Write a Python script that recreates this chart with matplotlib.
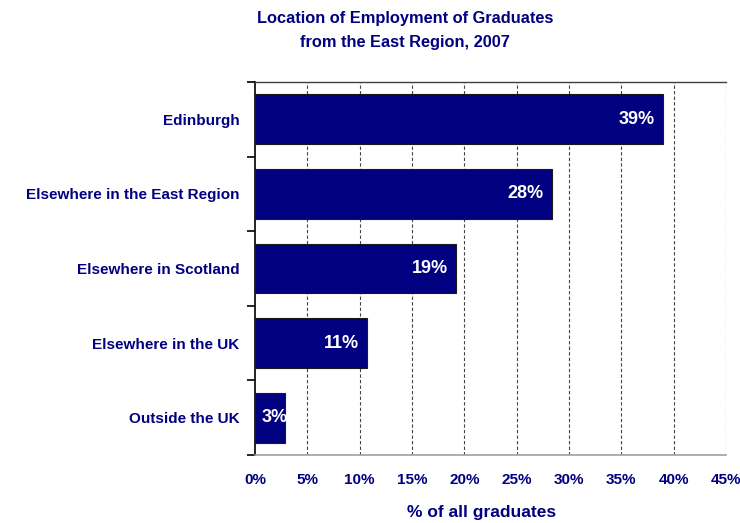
import matplotlib
matplotlib.use("Agg")
import matplotlib.pyplot as plt
from matplotlib.ticker import MultipleLocator, FuncFormatter

# Location of employment, share of all graduates (%)
categories = ["Edinburgh", "Elsewhere in the East Region", "Elsewhere in Scotland",
              "Elsewhere in the UK", "Outside the UK"]
shares = [39.0, 28.4, 19.2, 10.7, 2.9]

navy = "#000080"
plt.rcParams["font.family"] = ["Liberation Sans", "DejaVu Sans"]

fig = plt.figure(figsize=(7.4, 5.23), dpi=100)
ax = fig.add_axes([255 / 740, 1 - 455 / 523, (726 - 255) / 740, (455 - 82) / 523])

ypos = list(range(len(categories)))[::-1]
bars = ax.barh(ypos, shares, height=0.67, color=navy, edgecolor="#1a1a1a",
               linewidth=0.8, zorder=3)

# value labels at the inner end of each bar; short bars start the label near the axis
for rect, val in zip(bars, shares):
    yc = rect.get_y() + rect.get_height() / 2
    if val < 5:
        ax.annotate(f"{val:.0f}%", xy=(0, yc), xytext=(5, 0), textcoords="offset points",
                    ha="left", va="center", color="white", fontsize=13,
                    fontweight="bold", zorder=4)
    else:
        ax.annotate(f"{val:.0f}%", xy=(rect.get_width(), yc), xytext=(-6, 0),
                    textcoords="offset points", ha="right", va="center",
                    color="white", fontsize=13, fontweight="bold", zorder=4)

ax.set_xlim(0, 45)
ax.set_ylim(-0.5, len(categories) - 0.5)
ax.xaxis.set_major_locator(MultipleLocator(5))
ax.xaxis.set_major_formatter(FuncFormatter(lambda v, p: f"{v:.0f}%"))
ax.tick_params(axis="x", length=0, pad=13, labelsize=11, labelcolor=navy)
for lbl in ax.get_xticklabels():
    lbl.set_fontweight("bold")

# vertical dashed gridlines
for v in range(5, 50, 5):
    ax.axvline(v, color="#444444", linestyle=(0, (3, 2)), linewidth=0.8, zorder=1)

# category labels and boundary ticks on the left axis
ax.set_yticks(ypos)
ax.set_yticklabels(categories, fontsize=11, fontweight="bold", color=navy)
ax.tick_params(axis="y", which="major", length=0, pad=11)
ax.set_yticks([i - 0.5 for i in range(len(categories) + 1)], minor=True)
ax.tick_params(axis="y", which="minor", length=6, width=1.2, color="black", direction="out")

ax.spines["left"].set_color("black")
ax.spines["left"].set_linewidth(1.2)
ax.spines["bottom"].set_color("#a0a0a0")
ax.spines["bottom"].set_linewidth(1.2)
ax.spines["top"].set_color("#404040")
ax.spines["top"].set_linewidth(1.0)
ax.spines["right"].set_visible(False)

ax.set_xlabel("% of all graduates", fontsize=12.5, fontweight="bold", color=navy)
ax.xaxis.set_label_coords((482 - 255) / (726 - 255), -(512 - 455) / (455 - 82))
ax.xaxis.label.set_va("center")

fig.text(405 / 740, 1 - 18 / 523, "Location of Employment of Graduates", ha="center",
         va="center", fontsize=11.8, fontweight="bold", color=navy)
fig.text(405 / 740, 1 - 42 / 523, "from the East Region, 2007", ha="center",
         va="center", fontsize=11.8, fontweight="bold", color=navy)

fig.savefig("out.png", dpi=100, facecolor="white")
